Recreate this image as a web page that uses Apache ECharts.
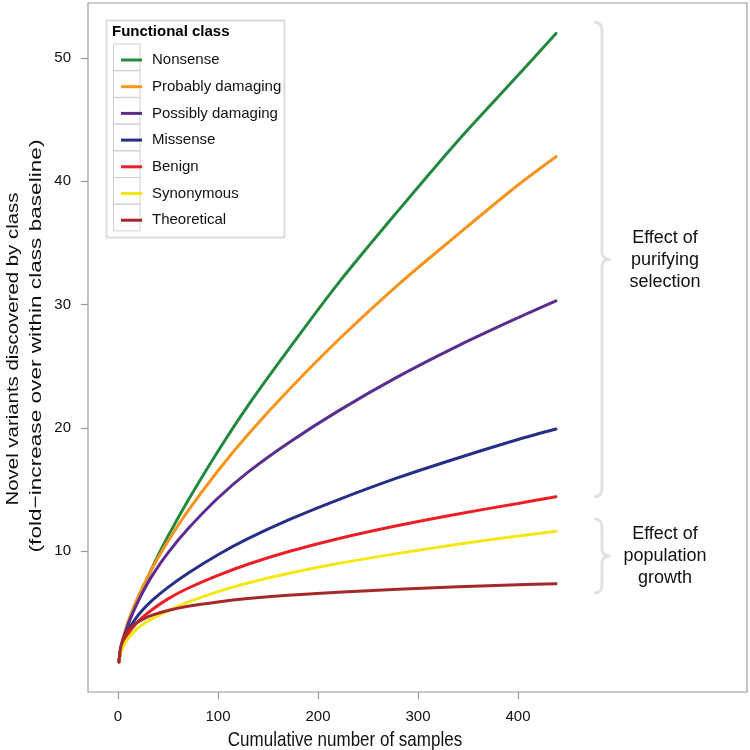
<!DOCTYPE html>
<html>
<head>
<meta charset="utf-8">
<script src="https://cdn.jsdelivr.net/npm/echarts@6/dist/echarts.min.js"></script>
<style>html,body{margin:0;padding:0;background:#fff;}#c{width:750px;height:750px;}</style>
</head>
<body>
<div id="c"></div>
<script>
// ---- data ----
const samples = [1, 2, 3, 5, 8, 12, 18, 25, 35, 50, 70, 100, 130, 170, 220, 280, 340, 400, 438];
const nonsense = [1, 1.6, 2.0, 2.6, 3.4, 4.4, 5.7, 7.0, 8.8, 11.2, 14.1, 18.1, 21.8, 26.3, 31.7, 37.6, 43.3, 48.6, 52.0];
const probablyDamaging = [1, 1.77, 2.2, 2.9, 3.74, 4.68, 5.9, 7.13, 8.71, 10.79, 13.25, 16.51, 19.45, 23.0, 27.1, 31.6, 35.7, 39.7, 42.0];
const possiblyDamaging = [1, 1.72, 2.15, 2.8, 3.55, 4.45, 5.55, 6.7, 8.1, 9.85, 11.8, 14.3, 16.4, 18.75, 21.35, 24.15, 26.65, 28.93, 30.3];
const missense = [1, 1.7, 2.1, 2.6, 3.2, 3.8, 4.55, 5.25, 6.05, 7.05, 8.2, 9.7, 11.0, 12.5, 14.15, 15.95, 17.55, 19.05, 19.9];
const benign = [1, 1.6, 1.95, 2.45, 2.95, 3.5, 4.1, 4.65, 5.3, 6.12, 6.98, 8.03, 8.93, 9.94, 11.0, 12.07, 13.01, 13.86, 14.4];
const synonymous = [1, 1.5, 1.8, 2.2, 2.65, 3.1, 3.6, 4.05, 4.55, 5.15, 5.85, 6.7, 7.4, 8.17, 8.98, 9.81, 10.55, 11.21, 11.6];
const theoretical = [1, 1.83, 2.28, 2.83, 3.32, 3.73, 4.15, 4.48, 4.82, 5.18, 5.52, 5.87, 6.14, 6.41, 6.66, 6.9, 7.1, 7.26, 7.35];

const classNames = ['Nonsense', 'Probably damaging', 'Possibly damaging', 'Missense', 'Benign', 'Synonymous', 'Theoretical'];
const classColors = ['#23893f', '#f7941d', '#5c2d8e', '#262f86', '#ec1f26', '#f3e715', '#a5282b'];
const classValues = [nonsense, probablyDamaging, possiblyDamaging, missense, benign, synonymous, theoretical];

const xTicks = [0, 100, 200, 300, 400];
const yTicks = [10, 20, 30, 40, 50];

// annotation braces: [top value, bottom value, label]
const braceTops = [52.9, 12.6];
const braceBottoms = [14.4, 6.6];
const braceLabels = ['Effect of\npurifying\nselection', 'Effect of\npopulation\ngrowth'];
const braceX = 484;

const FONT = '"Liberation Sans", Arial, Helvetica, sans-serif';
const chart = echarts.init(document.getElementById('c'), null, {renderer: 'canvas'});

const series = classNames.map((name, i) => ({
  name: name,
  type: 'line',
  data: samples.map((s, j) => [s, classValues[i][j]]),
  showSymbol: false,
  symbol: 'none',
  smooth: 0.3,
  lineStyle: {width: 3, color: classColors[i], cap: 'round'},
  itemStyle: {color: classColors[i]},
  z: 3,
  silent: true
}));

const tickStyle = {color: '#9a9a9a', width: 1.2};
chart.setOption({
  animation: false,
  backgroundColor: '#fff',
  textStyle: {fontFamily: FONT},
  grid: {left: 88, right: 3, top: 3, bottom: 58, show: true, borderColor: '#9a9a9a', borderWidth: 1.2, containLabel: false},
  xAxis: {
    type: 'value', min: -30, max: 629, position: 'bottom',
    axisLine: {show: false, onZero: false},
    splitLine: {show: false},
    axisTick: {show: true, customValues: xTicks, length: 7, inside: false, lineStyle: tickStyle},
    axisLabel: {customValues: xTicks, margin: 17, fontSize: 15, color: '#111', fontFamily: FONT}
  },
  yAxis: {
    type: 'value', min: -1.44, max: 54.47, position: 'left',
    axisLine: {show: false, onZero: false},
    splitLine: {show: false},
    axisTick: {show: true, customValues: yTicks, length: 7, inside: false, lineStyle: tickStyle},
    axisLabel: {customValues: yTicks, margin: 17, fontSize: 15, color: '#111', fontFamily: FONT}
  },
  legend: {
    data: classNames,
    orient: 'vertical',
    left: 116, top: 46,
    itemWidth: 21, itemHeight: 3,
    icon: 'rect',
    itemGap: 8.7,
    selectedMode: false,
    textStyle: {fontSize: 15, color: '#111', lineHeight: 18, fontFamily: FONT, padding: [0, 0, 0, 5]}
  },
  series: series
});

// annotations positioned through the chart's own scales
function px(x, y) { return chart.convertToPixel({gridIndex: 0}, [x, y]); }
const graphics = [];
const braceStyle = {stroke: '#e2e2e2', lineWidth: 3, lineCap: 'round', fill: 'none'};
// legend frame and cells
graphics.push({type: 'rect', shape: {x: 106.5, y: 20.5, width: 178, height: 217}, style: {fill: '#fff', stroke: '#dcdcdc', lineWidth: 2}, z: 1, silent: true});
for (let i = 0; i < classNames.length; i++) {
  graphics.push({type: 'rect', shape: {x: 113.5, y: 44 + i * 26.7, width: 26.5, height: 26.7}, style: {fill: 'none', stroke: '#cfcfcf', lineWidth: 1}, z: 2, silent: true});
}
graphics.push({type: 'text', x: 112, y: 32, style: {text: 'Functional class', font: 'bold 15px ' + FONT, fill: '#000', textAlign: 'left', textVerticalAlign: 'middle'}, z: 5, silent: true});

// braces
for (let b = 0; b < braceTops.length; b++) {
  const pTop = px(braceX, braceTops[b]);
  const pBot = px(braceX, braceBottoms[b]);
  const xl = pTop[0], yt = pTop[1], yb = pBot[1], ym = (yt + yb) / 2;
  graphics.push({type: 'bezierCurve', shape: {x1: xl - 7, y1: yt, cpx1: xl, cpy1: yt, x2: xl, y2: yt + 9}, style: braceStyle, z: 2, silent: true});
  graphics.push({type: 'line', shape: {x1: xl, y1: yt + 9, x2: xl, y2: ym - 8}, style: braceStyle, z: 2, silent: true});
  graphics.push({type: 'bezierCurve', shape: {x1: xl, y1: ym - 8, cpx1: xl, cpy1: ym, x2: xl + 7, y2: ym}, style: braceStyle, z: 2, silent: true});
  graphics.push({type: 'bezierCurve', shape: {x1: xl + 7, y1: ym, cpx1: xl, cpy1: ym, x2: xl, y2: ym + 8}, style: braceStyle, z: 2, silent: true});
  graphics.push({type: 'line', shape: {x1: xl, y1: ym + 8, x2: xl, y2: yb - 9}, style: braceStyle, z: 2, silent: true});
  graphics.push({type: 'bezierCurve', shape: {x1: xl, y1: yb - 9, cpx1: xl, cpy1: yb, x2: xl - 7, y2: yb}, style: braceStyle, z: 2, silent: true});
  graphics.push({type: 'text', x: 665, y: ym, style: {text: braceLabels[b], font: '18px ' + FONT, fill: '#111', textAlign: 'center', textVerticalAlign: 'middle', lineHeight: 22}, z: 5, silent: true});
}

// axis titles
graphics.push({type: 'text', x: 345, y: 740, scaleY: 1.2, style: {text: 'Cumulative number of samples', font: '17px ' + FONT, fill: '#111', textAlign: 'center', textVerticalAlign: 'middle'}, z: 5, silent: true});
graphics.push({type: 'text', x: 13, y: 349, rotation: Math.PI / 2, scaleX: 1.2, style: {text: 'Novel variants discovered by class', font: '17px ' + FONT, fill: '#111', textAlign: 'center', textVerticalAlign: 'middle'}, z: 5, silent: true});
graphics.push({type: 'text', x: 36, y: 346, rotation: Math.PI / 2, scaleX: 1.33, style: {text: '(fold\u2212increase over within class baseline)', font: '17px ' + FONT, fill: '#111', textAlign: 'center', textVerticalAlign: 'middle'}, z: 5, silent: true});

chart.setOption({graphic: {elements: graphics}});
</script>
</body>
</html>
